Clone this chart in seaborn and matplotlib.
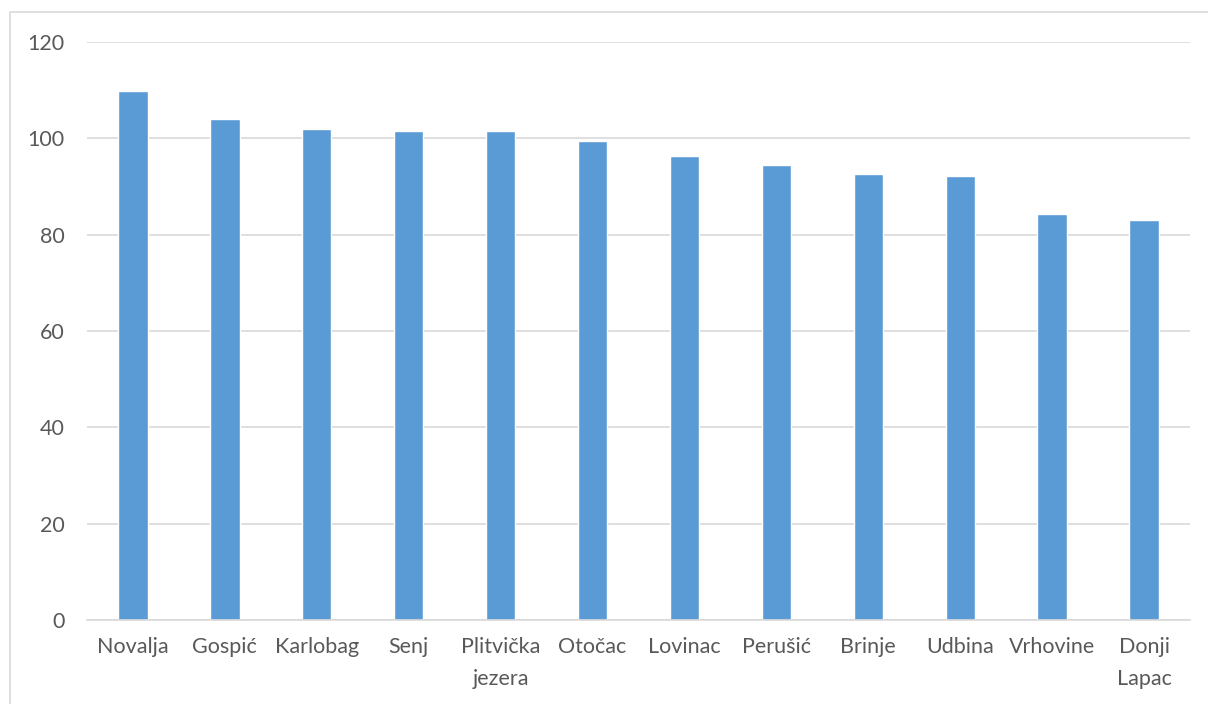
import pandas as pd
import seaborn as sns
import matplotlib.pyplot as plt
from matplotlib.patches import Rectangle

sns.set_style("white")
plt.rcParams['font.family'] = ['Lato', 'DejaVu Sans']

towns = ["Novalja", "Gospić", "Karlobag", "Senj", "Plitvička\njezera", "Otočac",
         "Lovinac", "Perušić", "Brinje", "Udbina", "Vrhovine", "Donji\nLapac"]
values = [109.9, 104.0, 101.9, 101.6, 101.45, 99.4,
          96.3, 94.4, 92.5, 92.1, 84.2, 83.1]
yticks = [0, 20, 40, 60, 80, 100, 120]

df = pd.DataFrame({"town": towns, "value": values})

fig = plt.figure(figsize=(12.08, 7.04), dpi=100)
ax = fig.add_axes([87 / 1208, 84 / 704, 1103 / 1208, 578 / 704])

sns.barplot(data=df, x="town", y="value", color="#5B9BD5", saturation=1,
            width=0.32, ax=ax)

ax.set_ylim(0, 120)
ax.set_xlim(-0.5, len(towns) - 0.5)
ax.set_yticks(yticks)
ax.yaxis.grid(True, color="#d9d9d9", linewidth=1.2)
ax.set_axisbelow(True)
for s in ["top", "right", "left"]:
    ax.spines[s].set_visible(False)
ax.spines["bottom"].set_color("#d9d9d9")
ax.spines["bottom"].set_linewidth(1.2)
ax.tick_params(axis="both", length=0, labelsize=15.5, labelcolor="#595959")
ax.tick_params(axis="y", pad=16)
ax.tick_params(axis="x", pad=12)
for lbl in ax.get_xticklabels():
    lbl.set_linespacing(1.75)
ax.set_xlabel("")
ax.set_ylabel("")

fig.patches.append(Rectangle((10 / 1208, -0.01), 1.02, (704 - 12) / 704 + 0.01,
                             transform=fig.transFigure, fill=False,
                             edgecolor="#d9d9d9", linewidth=1.2))

fig.savefig("out.png", dpi=100)
